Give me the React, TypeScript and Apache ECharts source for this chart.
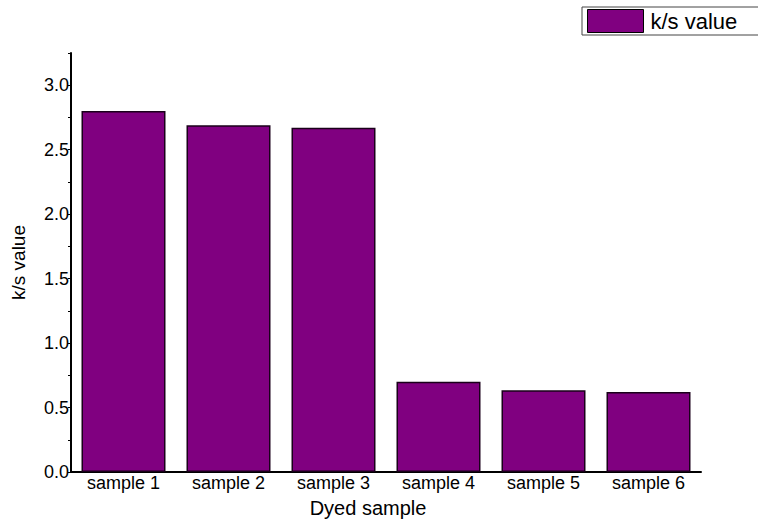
import React, { useEffect, useRef } from "react";
import * as echarts from "echarts";

const categories = ["sample 1", "sample 2", "sample 3", "sample 4", "sample 5", "sample 6"];
const ksValues = [2.8, 2.69, 2.67, 0.7, 0.635, 0.62];
const seriesName = "k/s value";

export default function App() {
  const ref = useRef<HTMLDivElement>(null);
  useEffect(() => {
    const chart = echarts.init(ref.current!, null, { renderer: "svg" });
    const font = "'Liberation Sans', Arial, sans-serif";
    chart.setOption({
      animation: false,
      backgroundColor: "#ffffff",
      textStyle: { fontFamily: font },
      grid: { left: 71, right: 57, top: 53, bottom: 50, containLabel: false, outerBoundsMode: "none" },
      legend: {
        data: [{ name: seriesName, icon: "rect" }],
        left: 582,
        top: 7,
        itemWidth: 56,
        itemHeight: 23,
        itemGap: 0,
        padding: [2, 30, 2, 5],
        borderColor: "#444",
        borderWidth: 1,
        textStyle: { fontSize: 22, color: "#000", fontFamily: font, padding: [0, 0, 0, 2] },
        itemStyle: { borderColor: "#000", borderWidth: 1 },
      },
      xAxis: {
        type: "category",
        data: categories,
        name: "Dyed sample",
        nameLocation: "middle",
        nameGap: 26,
        nameTextStyle: { fontSize: 20, color: "#000", fontFamily: font, padding: [0, 36, 0, 0] },
        axisLine: { lineStyle: { color: "#000", width: 2 } },
        axisTick: { show: false },
        axisLabel: { fontSize: 18, color: "#000", margin: 2, fontFamily: font },
        splitLine: { show: false },
      },
      yAxis: {
        type: "value",
        min: 0,
        max: 3.25,
        interval: 0.5,
        name: "k/s value",
        nameLocation: "middle",
        nameGap: 43,
        nameTextStyle: { fontSize: 19, color: "#000", fontFamily: font },
        axisLine: { show: true, lineStyle: { color: "#000", width: 2 } },
        axisTick: { show: true, length: 3, lineStyle: { color: "#000" } },
        minorTick: { show: true, splitNumber: 2, length: 3, lineStyle: { color: "#000" } },
        axisLabel: {
          fontSize: 18,
          color: "#000",
          margin: 2,
          fontFamily: font,
          showMaxLabel: false,
          formatter: (v: number) => v.toFixed(1),
        },
        splitLine: { show: false },
      },
      series: [
        {
          name: seriesName,
          type: "bar",
          data: ksValues,
          barCategoryGap: "20%",
          itemStyle: { color: "#800080", borderColor: "#1a001a", borderWidth: 1.5 },
        },
      ],
    });
    return () => chart.dispose();
  }, []);
  return <div ref={ref} style={{ width: 758, height: 522, position: "absolute", left: 0, top: 0 }} />;
}
